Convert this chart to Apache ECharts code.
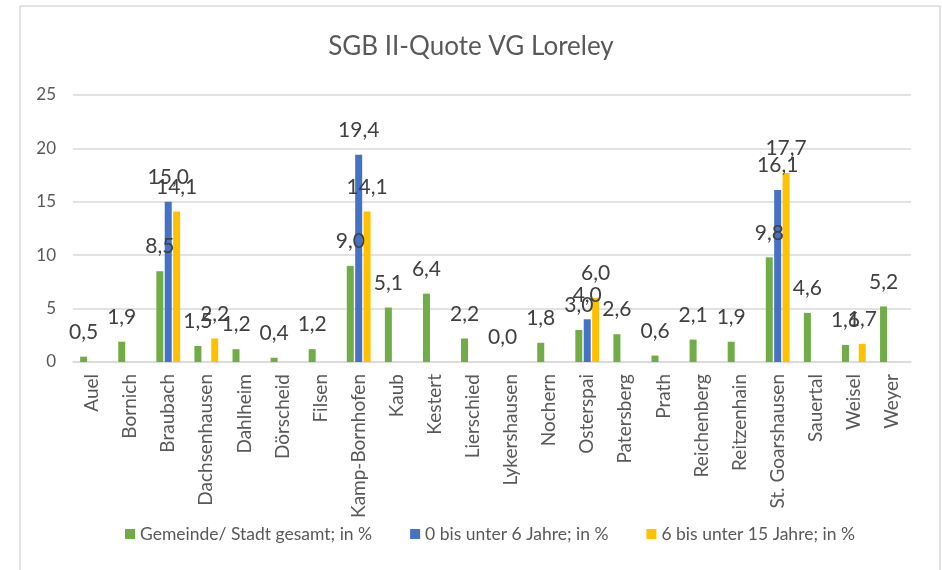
<!DOCTYPE html>
<html>
<head>
<meta charset="utf-8">
<title>SGB II-Quote VG Loreley</title>
<script src="https://cdn.jsdelivr.net/npm/echarts@6/dist/echarts.min.js"></script>
<style>
  html, body { margin: 0; padding: 0; background: #fff; }
  #chart { width: 942px; height: 570px; }
</style>
</head>
<body>
<div id="chart"></div>
<script>
// Gemeinden der VG Loreley
var categories = ['Auel', 'Bornich', 'Braubach', 'Dachsenhausen', 'Dahlheim', 'Dörscheid', 'Filsen',
  'Kamp-Bornhofen', 'Kaub', 'Kestert', 'Lierschied', 'Lykershausen', 'Nochern', 'Osterspai',
  'Patersberg', 'Prath', 'Reichenberg', 'Reitzenhain', 'St. Goarshausen', 'Sauertal', 'Weisel', 'Weyer']

var seriesNames = ['Gemeinde/ Stadt gesamt; in %', '0 bis unter 6 Jahre; in %', '6 bis unter 15 Jahre; in %']

// Werte in %, '-' = kein Wert
var gesamt = [0.5, 1.9, 8.5, 1.5, 1.2, 0.4, 1.2, 9.0, 5.1, 6.4, 2.2, 0.0, 1.8, 3.0, 2.6, 0.6, 2.1, 1.9, 9.8, 4.6, 1.6, 5.2]
var unter6 = ['-', '-', 15.0, '-', '-', '-', '-', 19.4, '-', '-', '-', '-', '-', 4.0, '-', '-', '-', '-', 16.1, '-', '-', '-']
var unter15 = ['-', '-', 14.1, 2.2, '-', '-', '-', 14.1, '-', '-', '-', '-', '-', 6.0, '-', '-', '-', '-', 17.7, '-', 1.7, '-']

var yTicks = [0, 5, 10, 15, 20, 25]
var colors = ['#70ad47', '#4472c4', '#ffc000']

var fontName = 'Lato'
var labelStyle = {
  show: true,
  position: 'top',
  distance: 14,
  fontFamily: fontName,
  fontSize: 21,
  color: '#404040',
  formatter: function (p) {
    return p.value.toFixed(1).replace('.', ',')
  }
}

function makeSeries(name, data) {
  return {
    name: name,
    type: 'bar',
    barWidth: 7,
    barGap: '20%',
    data: data,
    label: labelStyle
  }
}

var chart = echarts.init(document.getElementById('chart'))
var option = {
  color: colors,
  animation: false,
  textStyle: { fontFamily: fontName },
  title: {
    text: 'SGB II-Quote VG Loreley',
    left: 'center',
    top: 29,
    textStyle: { fontFamily: fontName, fontSize: 26, fontWeight: 'normal', color: '#595959' }
  },
  graphic: [{
    type: 'rect',
    shape: { x: 20, y: 6, width: 920, height: 620 },
    style: { fill: 'none', stroke: '#d9d9d9', lineWidth: 1.5 },
    silent: true
  }],
  legend: {
    bottom: 22,
    left: 120,
    itemWidth: 10,
    itemHeight: 10,
    itemGap: 38,
    icon: 'rect',
    textStyle: { fontFamily: fontName, fontSize: 17.5, color: '#595959' },
    data: seriesNames
  },
  grid: {
    left: 73,
    right: 31,
    top: 95,
    bottom: 208
  },
  xAxis: {
    type: 'category',
    data: categories,
    axisLine: { lineStyle: { color: '#d9d9d9', width: 1.5 } },
    axisTick: { show: false },
    axisLabel: {
      rotate: 90,
      interval: 0,
      margin: 12,
      fontFamily: fontName,
      fontSize: 19,
      color: '#595959'
    }
  },
  yAxis: {
    type: 'value',
    min: yTicks[0],
    max: yTicks[yTicks.length - 1],
    interval: 5,
    axisLine: { show: false },
    axisTick: { show: false },
    splitLine: { lineStyle: { color: '#d9d9d9', width: 1.5 } },
    axisLabel: {
      margin: 17,
      fontFamily: fontName,
      fontSize: 17,
      color: '#595959'
    }
  },
  series: [
    makeSeries(seriesNames[0], gesamt),
    makeSeries(seriesNames[1], unter6),
    makeSeries(seriesNames[2], unter15)
  ]
}
chart.setOption(option)
window.onresize = function () {
  chart.resize()
}
</script>
</body>
</html>
